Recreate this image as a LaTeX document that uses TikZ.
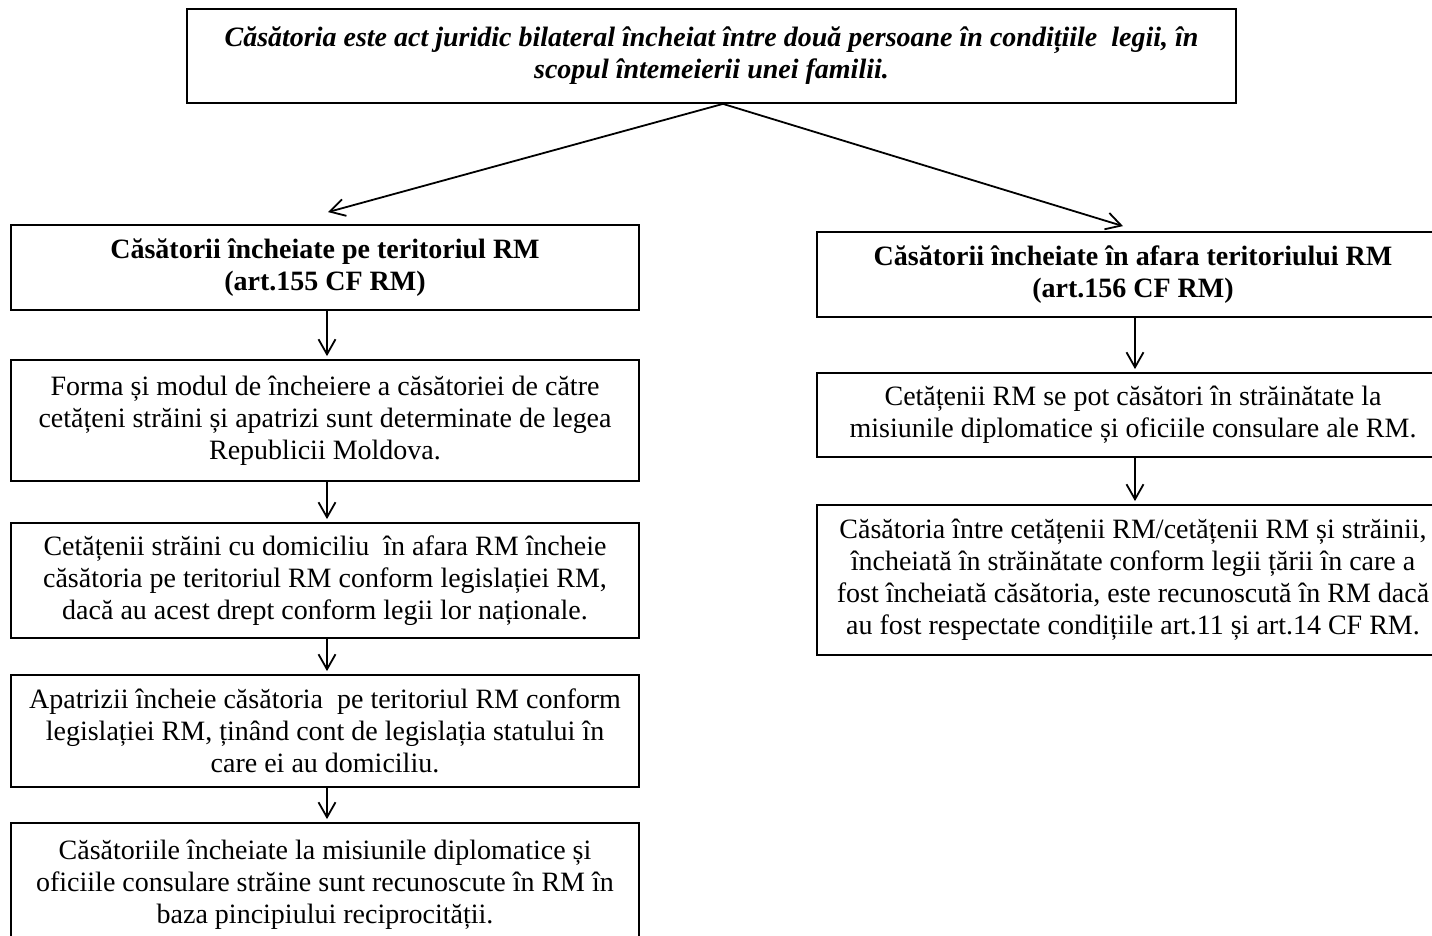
\documentclass[tikz,border=0pt]{standalone}
\usepackage{fontspec}
\setmainfont{Liberation Serif}
\usetikzlibrary{arrows.meta}

\tikzset{
	box/.style={draw, line width=0.9pt, align=center, inner sep=0pt,
		font=\fontsize{14pt}{16pt}\selectfont},
	lbox/.style={box, minimum width=314pt},
	rbox/.style={box, minimum width=316pt},
	arr/.style={line width=0.9pt, -{Straight Barb[length=7.5pt,width=8.5pt,line width=0.9pt]}}
}

\begin{document}
\begin{tikzpicture}[x=0.5pt, y=-0.5pt]
	\useasboundingbox (0,0) rectangle (1432,936);
	\clip (0,0) rectangle (1432,936);

	% definitia
	\node[box, minimum width=524.5pt, minimum height=47pt, font=\fontsize{14pt}{16pt}\selectfont\bfseries\itshape] (def) at (711.5,56)
		{Căsătoria este act juridic bilateral încheiat între două persoane în condițiile~ legii, în\\ scopul întemeierii unei familii.};

	% ramura stanga
	\node[lbox, minimum height=42.5pt, font=\fontsize{14pt}{16pt}\selectfont\bfseries] (pe) at (325,267.5)
		{Căsătorii încheiate pe teritoriul RM\\ (art.155 CF RM)};
	\node[lbox, minimum height=60.5pt] (forma) at (325,420.5)
		{Forma și modul de încheiere a căsătoriei de către\\ cetățeni străini și apatrizi sunt determinate de legea\\ Republicii Moldova.};
	\node[lbox, minimum height=57.5pt] (straini) at (325,580.5)
		{Cetățenii străini cu domiciliu~ în afara RM încheie\\ căsătoria pe teritoriul RM conform legislației RM,\\ dacă au acest drept conform legii lor naționale.};
	\node[lbox, minimum height=56pt] (apatrizi) at (325,731)
		{Apatrizii încheie căsătoria~ pe teritoriul RM conform\\ legislației RM, ținând cont de legislația statului în\\ care ei au domiciliu.};
	\node[lbox, minimum height=62pt] (misiuni) at (325,885)
		{Căsătoriile încheiate la misiunile diplomatice și\\ oficiile consulare străine sunt recunoscute în RM în\\ baza pincipiului reciprocității.};

	% ramura dreapta
	\node[rbox, minimum height=42.5pt, font=\fontsize{14pt}{16pt}\selectfont\bfseries] (afara) at (1133,274.5)
		{Căsătorii încheiate în afara teritoriului RM\\ (art.156 CF RM)};
	\node[rbox, minimum height=42pt] (cetateni) at (1133,415)
		{Cetățenii RM se pot căsători în străinătate la\\ misiunile diplomatice și oficiile consulare ale RM.};
	\node[rbox, minimum height=75pt] (recunoscuta) at (1133,580)
		{Căsătoria între cetățenii RM/cetățenii RM și străinii,\\ încheiată în străinătate conform legii țării în care a\\ fost încheiată căsătoria, este recunoscută în RM dacă\\ au fost respectate condițiile art.11 și art.14 CF RM.};

	% sagetile
	\coordinate (varf) at ([xshift=5.75pt]def.south);
	\draw[arr] (varf) -- ([xshift=1.5pt, yshift=6pt]pe.north);
	\draw[arr] (varf) -- ([xshift=-5pt, yshift=2.5pt]afara.north);
	\draw[arr, shorten >=1.5pt] ([xshift=1pt]pe.south) -- ([xshift=1pt]forma.north);
	\draw[arr, shorten >=1.5pt] ([xshift=1pt]forma.south) -- ([xshift=1pt]straini.north);
	\draw[arr, shorten >=1.5pt] ([xshift=1pt]straini.south) -- ([xshift=1pt]apatrizi.north);
	\draw[arr, shorten >=1.5pt] ([xshift=1pt]apatrizi.south) -- ([xshift=1pt]misiuni.north);
	\draw[arr, shorten >=1.5pt] ([xshift=1pt]afara.south) -- ([xshift=1pt]cetateni.north);
	\draw[arr, shorten >=1.5pt] ([xshift=1pt]cetateni.south) -- ([xshift=1pt]recunoscuta.north);
\end{tikzpicture}
\end{document}
